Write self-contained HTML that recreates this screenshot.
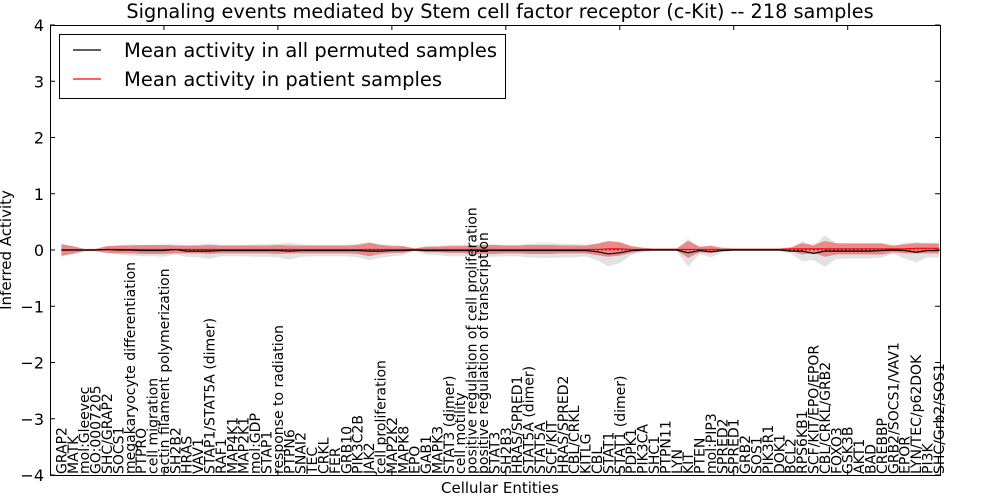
<!DOCTYPE html>
<html><head><meta charset="utf-8"><style>
body{margin:0;background:#fff;}
svg{display:block;font-family:"DejaVu Sans","Liberation Sans",sans-serif;}
</style></head><body>
<svg id="chart" width="1000" height="500" xmlns="http://www.w3.org/2000/svg">
<rect width="1000" height="500" fill="#fff"/>
<text x="500" y="18" font-size="19.3" text-anchor="middle">Signaling events mediated by Stem cell factor receptor (c-Kit) -- 218 samples</text>
<g id="plot"></g>
<text transform="translate(11,250) rotate(-90)" font-size="15" text-anchor="middle">Inferred Activity</text>
<text x="500" y="493" font-size="15" text-anchor="middle">Cellular Entities</text>
<g>
<rect x="59.5" y="34.5" width="446" height="64" fill="#fff" stroke="#000" stroke-width="1"/>
<line x1="73" y1="50" x2="101" y2="50" stroke="#000" stroke-width="1.2"/>
<text x="124" y="57" font-size="19.5">Mean activity in all permuted samples</text>
<line x1="73" y1="79" x2="101" y2="79" stroke="#f00" stroke-width="1.2"/>
<text x="124" y="86" font-size="19.5">Mean activity in patient samples</text>
</g>
</svg>
<script>
const categories=["GRAP2","MATK","mol:Gleevec","GO:0007205","SHC/GRAP2","SOCS1","megakaryocyte differentiation","PTPRO","cell migration","actin filament polymerization","SH2B2","HRAS","VAV1","STAP1/STAT5A (dimer)","RAF1","MAP4K1","MAP2K1","mol:GDP","STAP1","response to radiation","PTPN6","SNAI2","TEC","CRKL","FER","GRB10","PIK3C2B","JAK2","cell proliferation","MAP2K2","MAPK8","EPO","GAB1","MAPK3","STAT3 (dimer)","cell motility","positive regulation of cell proliferation","positive regulation of transcription","STAT3","SH2B3","HRAS/SPRED1","STAT5A (dimer)","STAT5A","SCF/KIT","HRAS/SPRED2","CBL/CRKL","KITLG","CBL","STAT1","STAT1 (dimer)","PDPK1","PIK3CA","SHC1","PTPN11","LYN","KIT","PTEN","mol:PIP3","SPRED2","SPRED1","GRB2","SOS1","PIK3R1","DOK1","BCL2","RPS6KB1","SCF/KIT/EPO/EPOR","CBL/CRKL/GRB2","FOXO3","GSK3B","AKT1","BAD","CREBBP","GRB2/SOCS1/VAV1","EPOR","LYN/TEC/p62DOK","PI3K","SHC/Grb2/SOS1"];
const patientMean=[0,0,0,0,0.01,0.01,0.01,0.01,0.01,0.01,0.01,0.01,0.01,0.01,0.01,0.01,0.01,0.01,0.01,0.01,0.01,0.01,0.01,0.01,0.01,0.01,0.01,0.01,0.01,0.01,0.01,0.01,0.01,0.01,0.01,0.01,0.01,0.01,0.01,0.01,0.01,0.01,0.01,0.01,0.01,0.01,0.01,0.01,0.02,0.02,0.01,0.01,0.01,0.01,0.01,0.01,0.01,0.01,0.01,0.01,0.01,0.01,0.01,0.01,0.02,0.02,0.02,0.02,0.02,0.02,0.02,0.02,0.02,0.02,0.02,0.03,0.03,0.03];
const permutedMean=[0,0,0,0,0.01,0,0,-0.01,-0.01,-0.01,0.01,-0.02,-0.02,-0.02,-0.01,-0.01,-0.01,-0.01,-0.01,-0.01,-0.02,-0.01,-0.01,-0.01,-0.01,-0.01,-0.01,-0.02,-0.02,-0.01,-0.01,0,-0.01,-0.01,-0.01,-0.01,-0.01,-0.01,-0.01,-0.01,-0.01,-0.01,-0.01,-0.01,-0.01,-0.01,-0.01,-0.03,-0.07,-0.05,-0.01,0,0,0,0,-0.05,-0.01,-0.03,-0.01,0,0,0,0,0,-0.02,-0.02,-0.06,-0.02,-0.02,-0.02,-0.02,-0.02,-0.01,0,-0.01,-0.04,-0.01,-0.01];
const patientSpread=[0.1,0.07,0.02,0.02,0.06,0.07,0.07,0.08,0.08,0.08,0.07,0.07,0.07,0.08,0.07,0.07,0.07,0.07,0.07,0.08,0.07,0.07,0.07,0.07,0.07,0.07,0.08,0.12,0.08,0.06,0.06,0.02,0.05,0.05,0.06,0.06,0.07,0.08,0.08,0.07,0.07,0.08,0.08,0.08,0.07,0.07,0.07,0.1,0.14,0.12,0.06,0.03,0.02,0.02,0.02,0.15,0.05,0.07,0.03,0.02,0.02,0.02,0.02,0.02,0.03,0.1,0.07,0.14,0.1,0.1,0.1,0.1,0.1,0.06,0.08,0.09,0.09,0.09];
const permutedSpread=[0.12,0.06,0.02,0.02,0.06,0.08,0.1,0.1,0.1,0.11,0.09,0.1,0.11,0.14,0.1,0.1,0.1,0.11,0.11,0.12,0.15,0.11,0.1,0.1,0.1,0.1,0.12,0.16,0.12,0.1,0.08,0.02,0.07,0.08,0.1,0.1,0.1,0.11,0.11,0.1,0.1,0.12,0.13,0.13,0.12,0.12,0.1,0.15,0.22,0.18,0.08,0.04,0.02,0.02,0.02,0.25,0.06,0.1,0.03,0.02,0.02,0.02,0.02,0.02,0.04,0.18,0.12,0.28,0.14,0.13,0.13,0.13,0.12,0.07,0.14,0.18,0.12,0.12];
const yTicks=[4,3,2,1,0,-1,-2,-3,-4];
const xTicks=[9,19,29,39,49,59,69];

const NS="http://www.w3.org/2000/svg";
const L=50,R=940,T=25,B=475;
const xmin=-1,xmax=77.1,ymin=-4,ymax=4;
const xs=v=>L+(v-xmin)/(xmax-xmin)*(R-L);
const ys=v=>B-(v-ymin)/(ymax-ymin)*(B-T);
const plot=document.getElementById('plot');
function mk(tag,attrs,parent){const e=document.createElementNS(NS,tag);for(const k in attrs)e.setAttribute(k,attrs[k]);(parent||plot).appendChild(e);return e;}
function band(mean,spread){let up=[],dn=[];for(let i=0;i<mean.length;i++){up.push(xs(i)+','+ys(mean[i]+spread[i]));dn.unshift(xs(i)+','+ys(mean[i]-spread[i]));}return up.concat(dn).join(' ');}
function line(mean){return mean.map((v,i)=>xs(i)+','+ys(v)).join(' ');}

let g=mk('polygon',{points:band(permutedMean,permutedSpread),fill:'rgb(190,190,190)','fill-opacity':'0.45'});


let r=mk('polygon',{points:band(patientMean,patientSpread),fill:'rgb(240,50,50)','fill-opacity':'0.5'});


let z=mk('line',{x1:xs(0),x2:xs(categories.length-1),y1:ys(0),y2:ys(0),stroke:'#000','stroke-dasharray':'1,3','stroke-width':'1'});


let pl=mk('polyline',{points:line(patientMean),fill:'none',stroke:'#f00','stroke-width':'1.2'});


let bl=mk('polyline',{points:line(permutedMean),fill:'none',stroke:'#000','stroke-width':'1.2'});



let fr=mk('rect',{x:L+0.5,y:T+0.5,width:R-L,height:B-T,fill:'none',stroke:'#000','stroke-width':'1'});



yTicks.forEach(t=>{const y=ys(t);
 let a=mk('line',{x1:L,x2:L+5,y1:y,y2:y,stroke:'#000'});
 
 
 let b=mk('line',{x1:R-5,x2:R,y1:y,y2:y,stroke:'#000'});
 
 
 let tx=mk('text',{x:L-6,y:y+6,'font-size':'16','text-anchor':'end'});
 tx.textContent=String(t).replace('-','\u2212');
 
 
});
xTicks.forEach(t=>{const x=xs(t);
 let a=mk('line',{x1:x,x2:x,y1:T,y2:T+5,stroke:'#000'});
 
 
 let b=mk('line',{x1:x,x2:x,y1:B-5,y2:B,stroke:'#000'});
 
 
});
categories.forEach((c,i)=>{const x=xs(i)+5;
 let tx=mk('text',{transform:`translate(${x},${B-1}) rotate(-90)`,'font-size':'14'});
 tx.textContent=c;
 
 
});
</script>
</body></html>
